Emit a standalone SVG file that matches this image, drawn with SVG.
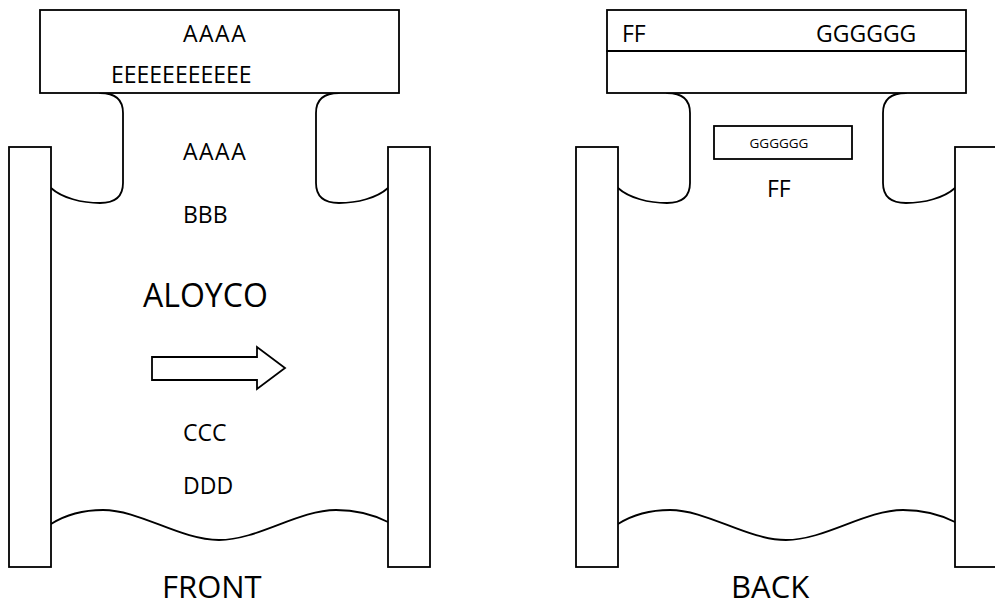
<svg xmlns="http://www.w3.org/2000/svg" width="995" height="608" viewBox="0 0 995 608">
<style>
.s{fill:#fff;stroke:#000;stroke-width:1.8}
.l{fill:none;stroke:#000;stroke-width:1.8;stroke-linecap:round}
text{font-family:"Open Sans","Liberation Sans",sans-serif;fill:#000}
.m{font-size:23px}
.b{font-size:32px}
.f{font-size:31px}
.sm{font-size:13.5px}
</style>
<rect width="995" height="608" fill="#fff"/>
<defs>
<g id="frame">
<path class="l" d="M100,93 C115,93 123,100 123,113 L123,183 C123,197 115,203 100,203 C82,203 62,198 51,188"/>
<path class="l" d="M339,93 C324,93 316,100 316,113 L316,183 C316,197 324,203 339,203 C357,203 377,198 388,188"/>
<path class="l" d="M51,524 C70,512 88,510 103,510 C140,510 180,540 219,540 C258,540 298,510 336,510 C351,510 370,513 388,522"/>
<rect class="s" x="9" y="147" width="42" height="420"/>
<rect class="s" x="388" y="147" width="42" height="420"/>
<rect class="s" x="40" y="10" width="359" height="83"/>
</g>
</defs>
<g id="front">
<use href="#frame"/>
<text class="m" x="183" y="42" letter-spacing="1.5">AAAA</text>
<text class="m" x="111" y="83">EEEEEEEEEEE</text>
<text class="m" x="183" y="160" letter-spacing="1.5">AAAA</text>
<text class="m" x="183" y="223">BBB</text>
<text class="b" x="143" y="307">ALOYCO</text>
<polygon class="s" points="152,357 257,357 257,347 285,368 257,389 257,380 152,380"/>
<text class="m" x="183" y="441">CCC</text>
<text class="m" x="183" y="494">DDD</text>
<text class="f" x="162" y="598">FRONT</text>
</g>
<g id="back">
<use href="#frame" transform="translate(567,0)"/>
<line class="l" x1="607" y1="51" x2="966" y2="51"/>
<text class="m" x="622" y="42">FF</text>
<text class="m" x="816" y="42">GGGGGG</text>
<rect class="s" x="714" y="126" width="138" height="33"/>
<text class="sm" x="779" y="148" text-anchor="middle">GGGGGG</text>
<text class="m" x="767" y="197">FF</text>
<text class="f" x="731" y="598">BACK</text>
</g>
</svg>
